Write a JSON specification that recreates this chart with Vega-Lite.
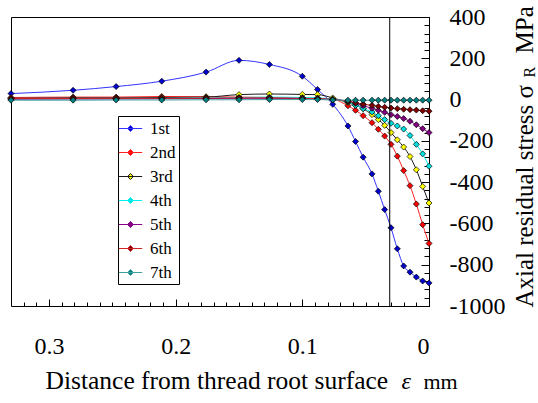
{
  "$schema": "https://vega.github.io/schema/vega-lite/v6.json",
  "width": 418,
  "height": 289,
  "autosize": {"type": "none"},
  "padding": {"left": 11, "top": 17, "right": 109, "bottom": 97},
  "background": "white",
  "config": {
    "view": {"stroke": "black", "strokeWidth": 1},
    "font": "Liberation Serif",
    "axis": {"domain": false, "grid": false, "tickColor": "black", "tickWidth": 1, "labelColor": "black", "titleColor": "black", "labelFont": "Liberation Serif", "titleFont": "Liberation Serif", "titleFontWeight": "normal", "labelOverlap": false}
  },
  "datasets": {
    "d": [
      {"s":"1st","x":0.33,"y":29},{"s":"1st","x":0.281,"y":45},{"s":"1st","x":0.247,"y":63},{"s":"1st","x":0.211,"y":89},{"s":"1st","x":0.176,"y":133},{"s":"1st","x":0.15,"y":190},{"s":"1st","x":0.126,"y":170},{"s":"1st","x":0.1,"y":113},{"s":"1st","x":0.088,"y":49},{"s":"1st","x":0.076,"y":-23},{"s":"1st","x":0.064,"y":-128},{"s":"1st","x":0.058,"y":-203},{"s":"1st","x":0.052,"y":-279},{"s":"1st","x":0.045,"y":-360},{"s":"1st","x":0.04,"y":-444},{"s":"1st","x":0.035,"y":-533},{"s":"1st","x":0.03,"y":-621},{"s":"1st","x":0.025,"y":-723},{"s":"1st","x":0.02,"y":-806},{"s":"1st","x":0.015,"y":-836},{"s":"1st","x":0.01,"y":-860},{"s":"1st","x":0.005,"y":-879},{"s":"1st","x":0,"y":-888},
      {"s":"2nd","x":0.33,"y":10},{"s":"2nd","x":0.281,"y":12},{"s":"2nd","x":0.247,"y":12},{"s":"2nd","x":0.211,"y":15},{"s":"2nd","x":0.176,"y":14},{"s":"2nd","x":0.15,"y":12},{"s":"2nd","x":0.126,"y":10},{"s":"2nd","x":0.1,"y":8},{"s":"2nd","x":0.088,"y":6},{"s":"2nd","x":0.076,"y":2},{"s":"2nd","x":0.064,"y":-30},{"s":"2nd","x":0.058,"y":-52},{"s":"2nd","x":0.052,"y":-78},{"s":"2nd","x":0.045,"y":-112},{"s":"2nd","x":0.04,"y":-144},{"s":"2nd","x":0.035,"y":-177},{"s":"2nd","x":0.03,"y":-217},{"s":"2nd","x":0.025,"y":-274},{"s":"2nd","x":0.02,"y":-344},{"s":"2nd","x":0.015,"y":-417},{"s":"2nd","x":0.01,"y":-506},{"s":"2nd","x":0.005,"y":-606},{"s":"2nd","x":0,"y":-697},
      {"s":"3rd","x":0.33,"y":6},{"s":"3rd","x":0.281,"y":8},{"s":"3rd","x":0.247,"y":8},{"s":"3rd","x":0.211,"y":10},{"s":"3rd","x":0.176,"y":12},{"s":"3rd","x":0.15,"y":24},{"s":"3rd","x":0.126,"y":27},{"s":"3rd","x":0.1,"y":25},{"s":"3rd","x":0.088,"y":24},{"s":"3rd","x":0.076,"y":8},{"s":"3rd","x":0.064,"y":-15},{"s":"3rd","x":0.058,"y":-28},{"s":"3rd","x":0.052,"y":-44},{"s":"3rd","x":0.045,"y":-73},{"s":"3rd","x":0.04,"y":-97},{"s":"3rd","x":0.035,"y":-125},{"s":"3rd","x":0.03,"y":-160},{"s":"3rd","x":0.025,"y":-195},{"s":"3rd","x":0.02,"y":-230},{"s":"3rd","x":0.015,"y":-276},{"s":"3rd","x":0.01,"y":-340},{"s":"3rd","x":0.005,"y":-421},{"s":"3rd","x":0,"y":-501},
      {"s":"4th","x":0.33,"y":3},{"s":"4th","x":0.281,"y":4},{"s":"4th","x":0.247,"y":5},{"s":"4th","x":0.211,"y":6},{"s":"4th","x":0.176,"y":8},{"s":"4th","x":0.15,"y":10},{"s":"4th","x":0.126,"y":12},{"s":"4th","x":0.1,"y":10},{"s":"4th","x":0.088,"y":8},{"s":"4th","x":0.076,"y":2},{"s":"4th","x":0.064,"y":-12},{"s":"4th","x":0.058,"y":-28},{"s":"4th","x":0.052,"y":-44},{"s":"4th","x":0.045,"y":-60},{"s":"4th","x":0.04,"y":-78},{"s":"4th","x":0.035,"y":-97},{"s":"4th","x":0.03,"y":-115},{"s":"4th","x":0.025,"y":-128},{"s":"4th","x":0.02,"y":-143},{"s":"4th","x":0.015,"y":-174},{"s":"4th","x":0.01,"y":-217},{"s":"4th","x":0.005,"y":-263},{"s":"4th","x":0,"y":-323},
      {"s":"5th","x":0.33,"y":2},{"s":"5th","x":0.281,"y":3},{"s":"5th","x":0.247,"y":3},{"s":"5th","x":0.211,"y":4},{"s":"5th","x":0.176,"y":5},{"s":"5th","x":0.15,"y":6},{"s":"5th","x":0.126,"y":6},{"s":"5th","x":0.1,"y":5},{"s":"5th","x":0.088,"y":4},{"s":"5th","x":0.076,"y":0},{"s":"5th","x":0.064,"y":-8},{"s":"5th","x":0.058,"y":-18},{"s":"5th","x":0.052,"y":-30},{"s":"5th","x":0.045,"y":-42},{"s":"5th","x":0.04,"y":-52},{"s":"5th","x":0.035,"y":-62},{"s":"5th","x":0.03,"y":-73},{"s":"5th","x":0.025,"y":-82},{"s":"5th","x":0.02,"y":-92},{"s":"5th","x":0.015,"y":-105},{"s":"5th","x":0.01,"y":-122},{"s":"5th","x":0.005,"y":-141},{"s":"5th","x":0,"y":-160},
      {"s":"6th","x":0.33,"y":5},{"s":"6th","x":0.281,"y":5},{"s":"6th","x":0.247,"y":6},{"s":"6th","x":0.211,"y":6},{"s":"6th","x":0.176,"y":7},{"s":"6th","x":0.15,"y":8},{"s":"6th","x":0.126,"y":8},{"s":"6th","x":0.1,"y":6},{"s":"6th","x":0.088,"y":5},{"s":"6th","x":0.076,"y":0},{"s":"6th","x":0.064,"y":-8},{"s":"6th","x":0.058,"y":-15},{"s":"6th","x":0.052,"y":-22},{"s":"6th","x":0.045,"y":-28},{"s":"6th","x":0.04,"y":-33},{"s":"6th","x":0.035,"y":-37},{"s":"6th","x":0.03,"y":-41},{"s":"6th","x":0.025,"y":-44},{"s":"6th","x":0.02,"y":-47},{"s":"6th","x":0.015,"y":-49},{"s":"6th","x":0.01,"y":-51},{"s":"6th","x":0.005,"y":-54},{"s":"6th","x":0,"y":-56},
      {"s":"7th","x":0.33,"y":-3},{"s":"7th","x":0.281,"y":-3},{"s":"7th","x":0.247,"y":-2},{"s":"7th","x":0.211,"y":-2},{"s":"7th","x":0.176,"y":-1},{"s":"7th","x":0.15,"y":-1},{"s":"7th","x":0.126,"y":0},{"s":"7th","x":0.1,"y":0},{"s":"7th","x":0.088,"y":0},{"s":"7th","x":0.076,"y":-2},{"s":"7th","x":0.064,"y":-3},{"s":"7th","x":0.058,"y":-3},{"s":"7th","x":0.052,"y":-3},{"s":"7th","x":0.045,"y":-3},{"s":"7th","x":0.04,"y":-3},{"s":"7th","x":0.035,"y":-3},{"s":"7th","x":0.03,"y":-3},{"s":"7th","x":0.025,"y":-3},{"s":"7th","x":0.02,"y":-3},{"s":"7th","x":0.015,"y":-3},{"s":"7th","x":0.01,"y":-3},{"s":"7th","x":0.005,"y":-3},{"s":"7th","x":0,"y":-3}
    ]
  },
  "layer": [
    {
      "data": {"name": "d"},
      "mark": {"type": "line", "interpolate": "monotone", "strokeWidth": 1},
      "encoding": {
        "x": {"field": "x", "type": "quantitative",
          "scale": {"domain": [0, 0.33], "reverse": true, "nice": false, "zero": false},
          "axis": {"orient": "bottom", "values": [0, 0.1, 0.2, 0.3], "labelExpr": "'' + datum.value", "tickSize": -7, "labelPadding": 54, "labelBaseline": "alphabetic", "labelFontSize": 24, "labelFlush": true,
            "title": "Distance from thread root surface", "titleFontSize": 25.5, "titleAlign": "left", "titleBaseline": "alphabetic", "titleX": 34, "titleY": 82}},
        "y": {"field": "y", "type": "quantitative",
          "scale": {"domain": [-1000, 400], "nice": false, "zero": false},
          "axis": {"orient": "right", "values": [-1000, -800, -600, -400, -200, 0, 200, 400], "labelExpr": "'' + datum.value", "tickSize": -8, "labelPadding": 28, "labelAlign": "left", "labelBaseline": "middle", "labelFontSize": 24,
            "title": "Axial residual stress  σ", "titleFontSize": 25, "titleAngle": 270, "titleAlign": "left", "titleBaseline": "alphabetic", "titleX": 103, "titleY": 290}},
        "stroke": {"field": "s", "type": "nominal",
          "scale": {"domain": ["1st", "2nd", "3rd", "4th", "5th", "6th", "7th"], "range": ["#3333ff", "#ff2222", "#1a1a1a", "#00f0f0", "#8b008b", "#cc2222", "#40a0a0"]},
          "legend": {"orient": "none", "legendX": 107, "legendY": 99, "title": null, "symbolType": "M-1.3,0L1.3,0M0,-0.33L0.33,0L0,0.33L-0.33,0Z", "symbolSize": 324, "symbolStrokeWidth": 1, "labelFont": "Liberation Serif", "labelFontSize": 17, "labelOffset": 10, "rowPadding": 6, "padding": 3, "strokeColor": "black", "fillColor": "white", "labelColor": "black"}}
      }
    },
    {
      "data": {"name": "d"},
      "mark": {"type": "point", "shape": "diamond", "filled": true, "size": 36, "stroke": "black", "strokeWidth": 0.7, "opacity": 1},
      "encoding": {
        "x": {"field": "x", "type": "quantitative",
          "scale": {"domain": [0, 0.33], "reverse": true, "nice": false, "zero": false},
          "axis": {"orient": "bottom", "values": [0,0.01,0.02,0.03,0.04,0.05,0.06,0.07,0.08,0.09,0.1,0.11,0.12,0.13,0.14,0.15,0.16,0.17,0.18,0.19,0.2,0.21,0.22,0.23,0.24,0.25,0.26,0.27,0.28,0.29,0.3,0.31,0.32], "tickSize": -4, "labels": false,
            "title": "ε", "titleFontSize": 24, "titleFontStyle": "italic", "titleAlign": "left", "titleBaseline": "alphabetic", "titleX": 390, "titleY": 82}},
        "y": {"field": "y", "type": "quantitative",
          "scale": {"domain": [-1000, 400], "nice": false, "zero": false},
          "axis": {"orient": "right", "values": [-1000,-960,-920,-880,-840,-800,-760,-720,-680,-640,-600,-560,-520,-480,-440,-400,-360,-320,-280,-240,-200,-160,-120,-80,-40,0,40,80,120,160,200,240,280,320,360,400], "tickSize": -5, "labels": false,
            "title": "R", "titleFontSize": 16, "titleAngle": 270, "titleAlign": "left", "titleBaseline": "alphabetic", "titleX": 105, "titleY": 60}},
        "fill": {"field": "s", "type": "nominal",
          "scale": {"domain": ["1st", "2nd", "3rd", "4th", "5th", "6th", "7th"], "range": ["#0000cc", "#ff0000", "#ffff00", "#00e0e0", "#800080", "#800000", "#008080"]},
          "legend": {"orient": "none", "legendX": 107, "legendY": 99, "title": null, "symbolType": "M-1.3,0L1.3,0M0,-0.33L0.33,0L0,0.33L-0.33,0Z", "symbolSize": 324, "symbolStrokeWidth": 1, "labelFont": "Liberation Serif", "labelFontSize": 17, "labelOffset": 10, "rowPadding": 6, "padding": 3, "strokeColor": "black", "fillColor": "white", "labelColor": "black"}}
      }
    },
    {
      "data": {"values": [{"x": 0.031, "ylo": -1000, "yhi": 400}]},
      "mark": {"type": "rule", "color": "black", "strokeWidth": 1},
      "encoding": {
        "x": {"field": "x", "type": "quantitative",
          "scale": {"domain": [0, 0.33], "reverse": true, "nice": false, "zero": false},
          "axis": {"orient": "bottom", "ticks": false, "labels": false, "title": "mm", "titleFontSize": 22, "titleAlign": "left", "titleBaseline": "alphabetic", "titleX": 412, "titleY": 82}},
        "y": {"field": "ylo", "type": "quantitative",
          "scale": {"domain": [-1000, 400], "nice": false, "zero": false},
          "axis": {"orient": "right", "ticks": false, "labels": false, "title": "MPa", "titleFontSize": 25, "titleAngle": 270, "titleAlign": "left", "titleBaseline": "alphabetic", "titleX": 103, "titleY": 36}},
        "y2": {"field": "yhi"}
      }
    }
  ],
  "resolve": {"axis": {"x": "independent", "y": "independent"}}
}
